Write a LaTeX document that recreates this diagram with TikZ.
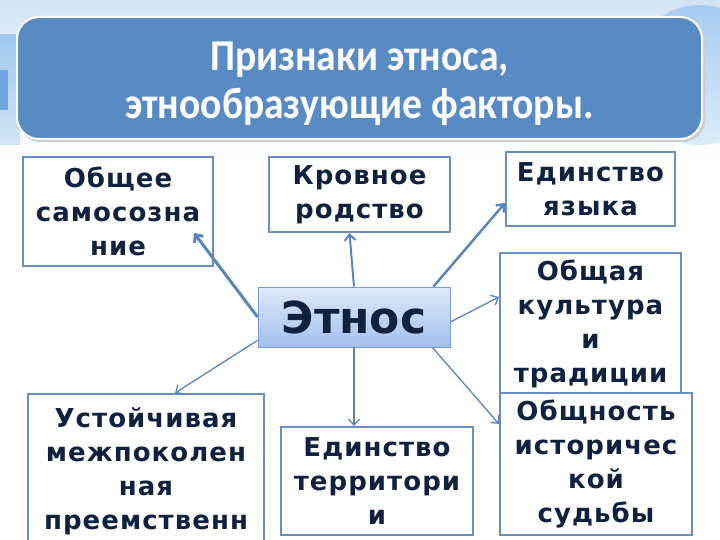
\documentclass[tikz,border=0pt]{standalone}
\usepackage{fontspec}
\newfontfamily\boxfont{DejaVu Sans}[LetterSpace=4]
\newfontfamily\centrefont{DejaVu Sans}
\newfontfamily\titlefont{Carlito}[FakeStretch=0.9]
\usetikzlibrary{arrows.meta,calc}
\definecolor{boxline}{HTML}{6A8EC2}
\definecolor{txt}{HTML}{10223F}
\definecolor{titlefill}{HTML}{588AC4}
\definecolor{arr}{HTML}{5A84BC}
\definecolor{bgtop}{HTML}{D3E4F5}
\definecolor{bgleft}{HTML}{A0C8EC}
\definecolor{bgdark}{HTML}{6FA6E0}
\definecolor{bgcirc}{HTML}{A6CCF0}
\definecolor{bgcirc2}{HTML}{DCEBF8}
\definecolor{etop}{HTML}{DFE8F8}
\definecolor{ebot}{HTML}{A2C0EE}
\definecolor{eline}{HTML}{7B9BCF}
\tikzset{
  fbox/.style={draw=boxline, line width=2pt, fill=white, align=center, inner sep=2pt,
    font=\boxfont\bfseries\fontsize{26}{34}\selectfont, text=txt},
  conn/.style={draw=arr, line width=1.3pt, -{Straight Barb[length=6pt,width=11pt]}},
}
\begin{document}
\begin{tikzpicture}[x=1pt,y=-1pt]
\useasboundingbox (0,0) rectangle (720,540);
\clip (0,0) rectangle (720,540);
\fill[white] (0,0) rectangle (720,540);
% background decoration
\shade[top color=bgtop, bottom color=white] (0,0) rectangle (720,165);
\shade[top color=bgleft, bottom color=bgtop] (0,35) rectangle (20,145);
\fill[bgdark] (0,70) rectangle (8,110);
\shade[top color=bgcirc, bottom color=bgcirc2] (700,75) circle (70);
% title
\fill[black!20, rounded corners=22pt] (19,20) rectangle (705,142);
\node[draw=white, line width=2pt, fill=titlefill, rounded corners=22pt,
      minimum width=685pt, minimum height=122pt] (title) at (359.5,78) {};
\node[align=center, text=white, inner sep=0pt,
      font=\titlefont\bfseries\fontsize{44}{48}\selectfont] (titletext) at (359.5,84)
  {Признаки этноса,\\этнообразующие факторы.};
% centre
\node[draw=eline, line width=0.8pt, top color=etop, bottom color=ebot,
      minimum width=192pt, minimum height=60pt, text=txt,
      font=\centrefont\bfseries\fontsize{44}{48}\selectfont] (e) at (354,317) {Этнос};
% boxes
\node[fbox, minimum width=190pt, minimum height=109pt, text width=184pt] (s1) at (118,211.5)
  {Общее\\самосозна\\ние};
\node[fbox, minimum width=181pt, minimum height=75pt, text width=175pt] (s2) at (359.5,194.5)
  {Кровное\\родство};
\node[fbox, minimum width=169pt, minimum height=74pt, text width=163pt] (s3) at (590.5,189)
  {Единство\\языка};
\node[fbox, minimum width=181pt, minimum height=141pt, text width=175pt] (s4) at (590.5,323.5)
  {Общая\\культура\\и\\традиции};
\node[fbox, minimum width=192pt, minimum height=142pt, text width=186pt] (s5) at (596,464)
  {Общность\\историчес\\кой\\судьбы};
\node[fbox, anchor=north, minimum width=236pt, minimum height=155pt, text width=230pt] (s6) at (146,393)
  {Устойчивая\\межпоколен\\ная\\преемственн};
\node[fbox, minimum width=192pt, minimum height=108pt, text width=186pt] (s7) at (377,481)
  {Единство\\территори\\и};
% connectors
\draw[conn, line width=3pt] (e.west) -- ($(s1.south east)+(-20,-34)$);
\draw[conn, line width=2pt] (e.north) -- ($(s2.south)+(-10,0)$);
\draw[conn, line width=2.5pt] ($(e.north east)+(-17,0)$) -- ($(s3.west)+(0,14)$);
\draw[conn] ($(e.east)+(0,5)$) -- ($(s4.north west)+(0,45)$);
\draw[conn] ($(e.south east)+(-18,0)$) -- ($(s5.north west)+(0,32)$);
\draw[conn] (e.south) -- ($(s7.north)+(-23,0)$);
\draw[conn] ($(e.south west)+(0,-7)$) -- ($(s6.north)+(29,0)$);
\end{tikzpicture}
\end{document}
